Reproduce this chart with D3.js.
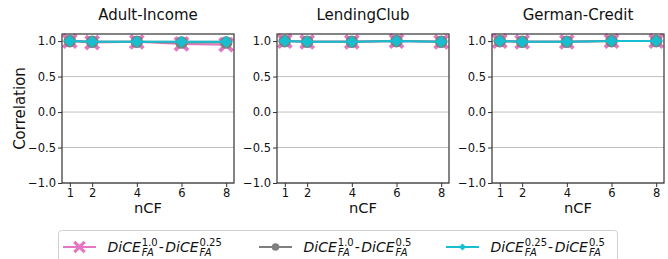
<!DOCTYPE html>
<html>
<head>
<meta charset="utf-8">
<script src="https://cdn.jsdelivr.net/npm/d3@7"></script>
<style>
  body { margin: 0; background: #fff; }
  svg { font-family: "DejaVu Sans", sans-serif; }
</style>
</head>
<body>
<div id="chart"></div>
<script>
// data
const datasets = ["Adult-Income", "LendingClub", "German-Credit"];
const nCF = [1, 2, 4, 6, 8];
const yTicks = [-1.0, -0.5, 0.0, 0.5, 1.0];

// one array per dataset for each series
const dice10_025 = [
  [1.0, 0.98, 0.99, 0.96, 0.95],
  [1.0, 0.99, 0.99, 1.0, 0.99],
  [1.0, 0.99, 0.99, 1.0, 1.0]
];
const dice10_05 = [
  [1.0, 0.99, 0.99, 0.98, 0.98],
  [1.0, 0.99, 0.99, 1.0, 0.99],
  [1.0, 0.99, 0.99, 1.0, 1.0]
];
const dice025_05 = [
  [1.0, 0.99, 0.99, 0.99, 0.99],
  [1.0, 0.99, 0.99, 1.0, 0.99],
  [1.0, 0.99, 0.99, 1.0, 1.0]
];

const series = [
  { values: dice10_025, color: "#e377c2", marker: "x", sup1: "1.0", sup2: "0.25" },
  { values: dice10_05, color: "#7f7f7f", marker: "o", sup1: "1.0", sup2: "0.5" },
  { values: dice025_05, color: "#17becf", marker: "d", sup1: "0.25", sup2: "0.5" }
];

const width = 668, height = 259;
const panelLeft = [62, 277, 492];
const panelW = 172;
const plotTop = 34, plotBottom = 183;

const svg = d3.select("#chart").append("svg")
  .attr("width", width)
  .attr("height", height);

const y = d3.scaleLinear().domain([-1, 1.1]).range([plotBottom, plotTop]);

// marker drawing helper
function drawMarker(g, kind, color, cx, cy, s) {
  if (kind === "x") {
    const a = 6.5 * s;
    g.append("path")
      .attr("d", `M${cx - a},${cy - a}L${cx + a},${cy + a}M${cx - a},${cy + a}L${cx + a},${cy - a}`)
      .attr("stroke", color)
      .attr("stroke-width", 4 * s)
      .attr("fill", "none");
  } else if (kind === "o") {
    g.append("circle")
      .attr("cx", cx).attr("cy", cy).attr("r", 6.3 * s)
      .attr("fill", color);
  } else {
    const a = 6 * s;
    g.append("path")
      .attr("d", `M${cx},${cy - a}L${cx + a},${cy}L${cx},${cy + a}L${cx - a},${cy}Z`)
      .attr("fill", color);
  }
}

datasets.forEach((name, di) => {
  const x0 = panelLeft[di];
  const x = d3.scaleLinear().domain([0.65, 8.35]).range([x0, x0 + panelW]);
  const g = svg.append("g");

  // grid
  g.selectAll(".grid").data(yTicks).join("line")
    .attr("x1", x0).attr("x2", x0 + panelW)
    .attr("y1", d => y(d)).attr("y2", d => y(d))
    .attr("stroke", "#b0b0b0").attr("stroke-width", 0.8);

  // axes
  const yAxis = d3.axisLeft(y).tickValues(yTicks).tickSize(4).tickPadding(2)
    .tickFormat(d => d3.format(".1f")(d).replace("-", "\u2212"));
  const gy = g.append("g").attr("transform", `translate(${x0},0)`).call(yAxis);
  const xAxis = d3.axisBottom(x).tickValues(nCF).tickSize(4).tickPadding(2);
  const gx = g.append("g").attr("transform", `translate(0,${plotBottom})`).call(xAxis);
  [gx, gy].forEach(a => {
    a.select(".domain").remove();
    a.selectAll("line").attr("stroke", "#333").attr("stroke-width", 1);
    a.selectAll("text").attr("font-size", 11.5).attr("fill", "#111")
      .attr("font-family", "DejaVu Sans");
  });

  // series
  series.forEach(s => {
    const vals = s.values[di];
    const line = d3.line().x((d, i) => x(nCF[i])).y(d => y(d));
    g.append("path").datum(vals)
      .attr("d", line)
      .attr("fill", "none")
      .attr("stroke", s.color)
      .attr("stroke-width", 2);
    vals.forEach((v, i) => drawMarker(g, s.marker, s.color, x(nCF[i]), y(v), 1));
  });

  // frame
  g.append("rect")
    .attr("x", x0).attr("y", plotTop)
    .attr("width", panelW).attr("height", plotBottom - plotTop)
    .attr("fill", "none").attr("stroke", "#333").attr("stroke-width", 1.2);

  g.append("text")
    .attr("x", x0 + panelW / 2).attr("y", 20)
    .attr("text-anchor", "middle")
    .attr("font-size", 15).attr("fill", "#111")
    .text(name);

  g.append("text")
    .attr("x", x0 + panelW / 2).attr("y", 213)
    .attr("text-anchor", "middle")
    .attr("font-size", 14.7).attr("fill", "#111")
    .text("nCF");
});

svg.append("text")
  .attr("transform", `translate(25,${(plotTop + plotBottom) / 2}) rotate(-90)`)
  .attr("text-anchor", "middle")
  .attr("font-size", 15).attr("fill", "#111")
  .text("Correlation");

// legend
const leg = svg.append("g");
leg.append("rect")
  .attr("x", 58.5).attr("y", 230.5)
  .attr("width", 559).attr("height", 40)
  .attr("rx", 3)
  .attr("fill", "#fff").attr("stroke", "#d0d0d0").attr("stroke-width", 1);

const legX = [63, 259, 446];
const legY = 247;

// put one piece of text and return its width
function piece(str, px, py, size, italic) {
  const t = leg.append("text")
    .attr("x", px).attr("y", py)
    .attr("font-size", size)
    .attr("font-style", italic ? "italic" : "normal")
    .attr("fill", "#111")
    .text(str);
  return t.node().getComputedTextLength();
}

series.forEach((s, i) => {
  const lx = legX[i];
  leg.append("line")
    .attr("x1", lx).attr("x2", lx + 33)
    .attr("y1", legY).attr("y2", legY)
    .attr("stroke", s.color).attr("stroke-width", 2);
  drawMarker(leg, s.marker, s.color, lx + 16.5, legY, s.marker === "x" ? 0.8 : 0.6);

  let cx = lx + 44.5;
  const base = legY + 5;
  const dice = (sup) => {
    cx += piece("DiCE", cx, base, 14, true) + 1;
    const w1 = piece(sup, cx, base - 6, 10, false);
    const w2 = piece("FA", cx, base + 4, 10, true);
    cx += Math.max(w1, w2) + 1;
  };
  dice(s.sup1);
  cx += piece("-", cx, base, 14, false) + 1.5;
  dice(s.sup2);
});
</script>
</body>
</html>
